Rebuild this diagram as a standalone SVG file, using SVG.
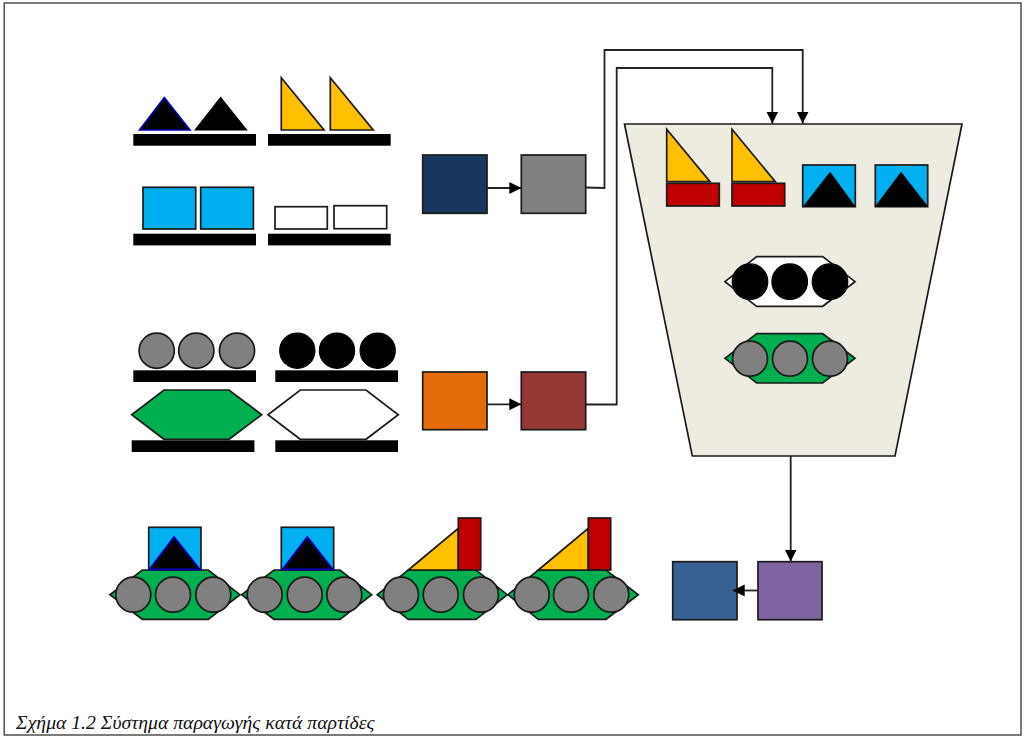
<svg xmlns="http://www.w3.org/2000/svg" width="1024" height="739" viewBox="0 0 1024 739">
<style>
.o{stroke:#1a1a1a;stroke-width:1.7;stroke-linejoin:miter}
.bar{fill:#000}
.k{fill:#000;stroke:#000;stroke-width:1.2}
.kb{fill:#000;stroke:#0000c0;stroke-width:1.6}
.y{fill:#FFC000}.c{fill:#00B0F0}.r{fill:#C00000}.g{fill:#00B050}.w{fill:#fff}.gy{fill:#808080}
.cn{fill:none;stroke:#222;stroke-width:1.8}
text{font-family:"Liberation Serif","Times New Roman",serif;font-style:italic;font-size:19.7px;fill:#111}
</style>
<defs>
<marker id="ah" markerUnits="userSpaceOnUse" markerWidth="13" markerHeight="13" refX="12" refY="6.5" orient="auto">
<path d="M0 .5L12 6.5L0 12.5z" fill="#000"/>
</marker>
</defs>
<rect width="1024" height="739" fill="#fff"/>
<rect id="frame" x="4.2" y="3" width="1016.8" height="732" fill="none" stroke="#444" stroke-width="1.4"/>

<g id="bars">
<rect class="bar" x="133.3" y="134" width="122.7" height="11.7"/>
<rect class="bar" x="268" y="134" width="122.7" height="11.7"/>
<rect class="bar" x="133.3" y="233.7" width="122.7" height="11.7"/>
<rect class="bar" x="268" y="233.7" width="122.7" height="11.7"/>
<rect class="bar" x="133.3" y="370.3" width="122.7" height="11.7"/>
<rect class="bar" x="275.3" y="370.3" width="122.7" height="11.7"/>
<rect class="bar" x="131.7" y="440.3" width="122.7" height="11.7"/>
<rect class="bar" x="275.3" y="440.3" width="122.7" height="11.7"/>
</g>

<g id="part-triangles-black">
<polygon class="kb" points="164.3,97.5 190,130 139.5,130"/>
<polygon class="k" points="220.7,97.5 246.5,130 195.2,130"/>
</g>
<g id="part-triangles-yellow">
<polygon class="o y" points="281.3,77.7 324,130 281.3,130"/>
<polygon class="o y" points="330.3,77.7 373.2,130 330.3,130"/>
</g>
<g id="part-squares-blue">
<rect class="o c" x="143" y="187.3" width="52.7" height="41.7"/>
<rect class="o c" x="200.7" y="187.3" width="52.7" height="41.7"/>
</g>
<g id="part-rects-white">
<rect class="o w" x="275" y="206.7" width="52.3" height="22.3"/>
<rect class="o w" x="334" y="205.7" width="52.7" height="23"/>
</g>
<g id="part-circles-gray">
<circle class="o gy" cx="156.7" cy="350.7" r="17.6"/>
<circle class="o gy" cx="196.3" cy="350.7" r="17.6"/>
<circle class="o gy" cx="237" cy="350.7" r="17.6"/>
</g>
<g id="part-circles-black">
<circle class="k" cx="297.3" cy="350.7" r="17.6"/>
<circle class="k" cx="337" cy="350.7" r="17.6"/>
<circle class="k" cx="377.7" cy="350.7" r="17.6"/>
</g>
<g id="part-hexagon-green">
<polygon class="o g" points="131.7,414.7 164,390 229,390 261.7,414.7 229,439.3 164,439.3"/>
</g>
<g id="part-hexagon-white">
<polygon class="o w" points="268,414.7 300.3,390 366,390 398.3,414.7 366,439.3 300.3,439.3"/>
</g>

<g id="hopper">
<polygon class="o" fill="#EEECE1" points="624.5,124 962,124 895,456 692.3,456"/>
</g>
<g id="hopper-sail-1">
<polygon class="o y" points="666.7,129.3 710,181.7 666.7,181.7"/>
<rect class="o r" x="666.7" y="183.3" width="52.6" height="22.7"/>
</g>
<g id="hopper-sail-2">
<polygon class="o y" points="732,129.3 775.3,181.7 732,181.7"/>
<rect class="o r" x="732" y="183.3" width="52.7" height="22.7"/>
</g>
<g id="hopper-cabin-1">
<rect class="o c" x="802.7" y="165" width="52.6" height="41.7"/>
<polygon class="k" points="830,172.7 854.5,206.2 804,206.2"/>
</g>
<g id="hopper-cabin-2">
<rect class="o c" x="875.3" y="165" width="52.4" height="41.7"/>
<polygon class="k" points="901,172.7 927,206.2 876,206.2"/>
</g>
<g id="hopper-hull-white">
<polygon class="o w" points="725,281.7 756.7,256.7 822.7,256.7 855,281.7 822.7,306.3 756.7,306.3"/>
<circle class="k" cx="750" cy="281.7" r="17.8"/>
<circle class="k" cx="789.7" cy="281.7" r="17.8"/>
<circle class="k" cx="830" cy="281.7" r="17.8"/>
</g>
<g id="hopper-hull-green">
<polygon class="o g" points="725,358.3 756.7,333.7 822.7,333.7 855,358.3 822.7,383 756.7,383"/>
<circle class="o gy" cx="750" cy="358.7" r="17.5"/>
<circle class="o gy" cx="790" cy="358.7" r="17.5"/>
<circle class="o gy" cx="830" cy="358.7" r="17.5"/>
</g>

<g id="boat-1">
<polygon class="o g" points="110,594.7 142.3,570 208.3,570 240,594.7 208.3,619.3 142.3,619.3"/>
<rect class="o c" x="148.7" y="527.3" width="52.3" height="42.7"/>
<polygon class="kb" points="174,536.7 200,569.4 149.3,569.4"/>
<circle class="o gy" cx="133.3" cy="594.7" r="17.5"/>
<circle class="o gy" cx="173" cy="594.7" r="17.5"/>
<circle class="o gy" cx="213.3" cy="594.7" r="17.5"/>
</g>
<g id="boat-2">
<polygon class="o g" points="241.7,594.7 274,570 340,570 371.7,594.7 340,619.3 274,619.3"/>
<rect class="o c" x="281.3" y="527.3" width="52.4" height="42.7"/>
<polygon class="kb" points="307.3,536.7 333,569.4 282.3,569.4"/>
<circle class="o gy" cx="264.7" cy="594.7" r="17.5"/>
<circle class="o gy" cx="304.7" cy="594.7" r="17.5"/>
<circle class="o gy" cx="344.3" cy="594.7" r="17.5"/>
</g>
<g id="boat-3">
<polygon class="o g" points="377.3,594.7 408.3,570 476,570 507.3,594.7 476,619.3 408.3,619.3"/>
<polygon class="o y" points="408.3,570 458.3,528.3 458.3,570"/>
<rect class="o r" x="458.3" y="518" width="22.4" height="52"/>
<circle class="o gy" cx="401" cy="594.7" r="17.5"/>
<circle class="o gy" cx="440.7" cy="594.7" r="17.5"/>
<circle class="o gy" cx="481" cy="594.7" r="17.5"/>
</g>
<g id="boat-4">
<polygon class="o g" points="508,594.7 538.3,570 606,570 638.3,594.7 606,619.3 538.3,619.3"/>
<polygon class="o y" points="538.3,570 588.3,528.3 588.3,570"/>
<rect class="o r" x="588.3" y="518" width="22.4" height="52"/>
<circle class="o gy" cx="531.7" cy="594.7" r="17.5"/>
<circle class="o gy" cx="571" cy="594.7" r="17.5"/>
<circle class="o gy" cx="611.3" cy="594.7" r="17.5"/>
</g>

<g id="machine-navy"><rect class="o" fill="#17375E" x="422.7" y="155" width="64.3" height="58.3"/></g>
<g id="machine-gray"><rect class="o gy" x="521.3" y="155" width="64.4" height="58.3"/></g>
<g id="machine-orange"><rect class="o" fill="#E46C0A" x="422.7" y="372" width="64.3" height="57.7"/></g>
<g id="machine-brown"><rect class="o" fill="#953735" x="521.3" y="372" width="64.4" height="57.7"/></g>
<g id="machine-blue"><rect class="o" fill="#376092" x="672.7" y="561.7" width="64.3" height="58"/></g>
<g id="machine-purple"><rect class="o" fill="#8064A2" x="758" y="561.7" width="64" height="58"/></g>

<g id="connectors">
<path class="cn" d="M487 188H521.3" marker-end="url(#ah)"/>
<path class="cn" d="M487 404.3H521.3" marker-end="url(#ah)"/>
<path class="cn" d="M585.7 187.5L604.5 188V50H802.7V123.5" marker-end="url(#ah)"/>
<path class="cn" d="M585.7 404.5H616.7V68H772.3V123.5" marker-end="url(#ah)"/>
<path class="cn" d="M790.7 456V561.5" marker-end="url(#ah)"/>
<path class="cn" d="M758 590.5H732.7" marker-end="url(#ah)"/>
</g>

<text id="caption" x="16" y="728.5">Σχήμα 1.2 Σύστημα παραγωγής κατά παρτίδες</text>
</svg>
